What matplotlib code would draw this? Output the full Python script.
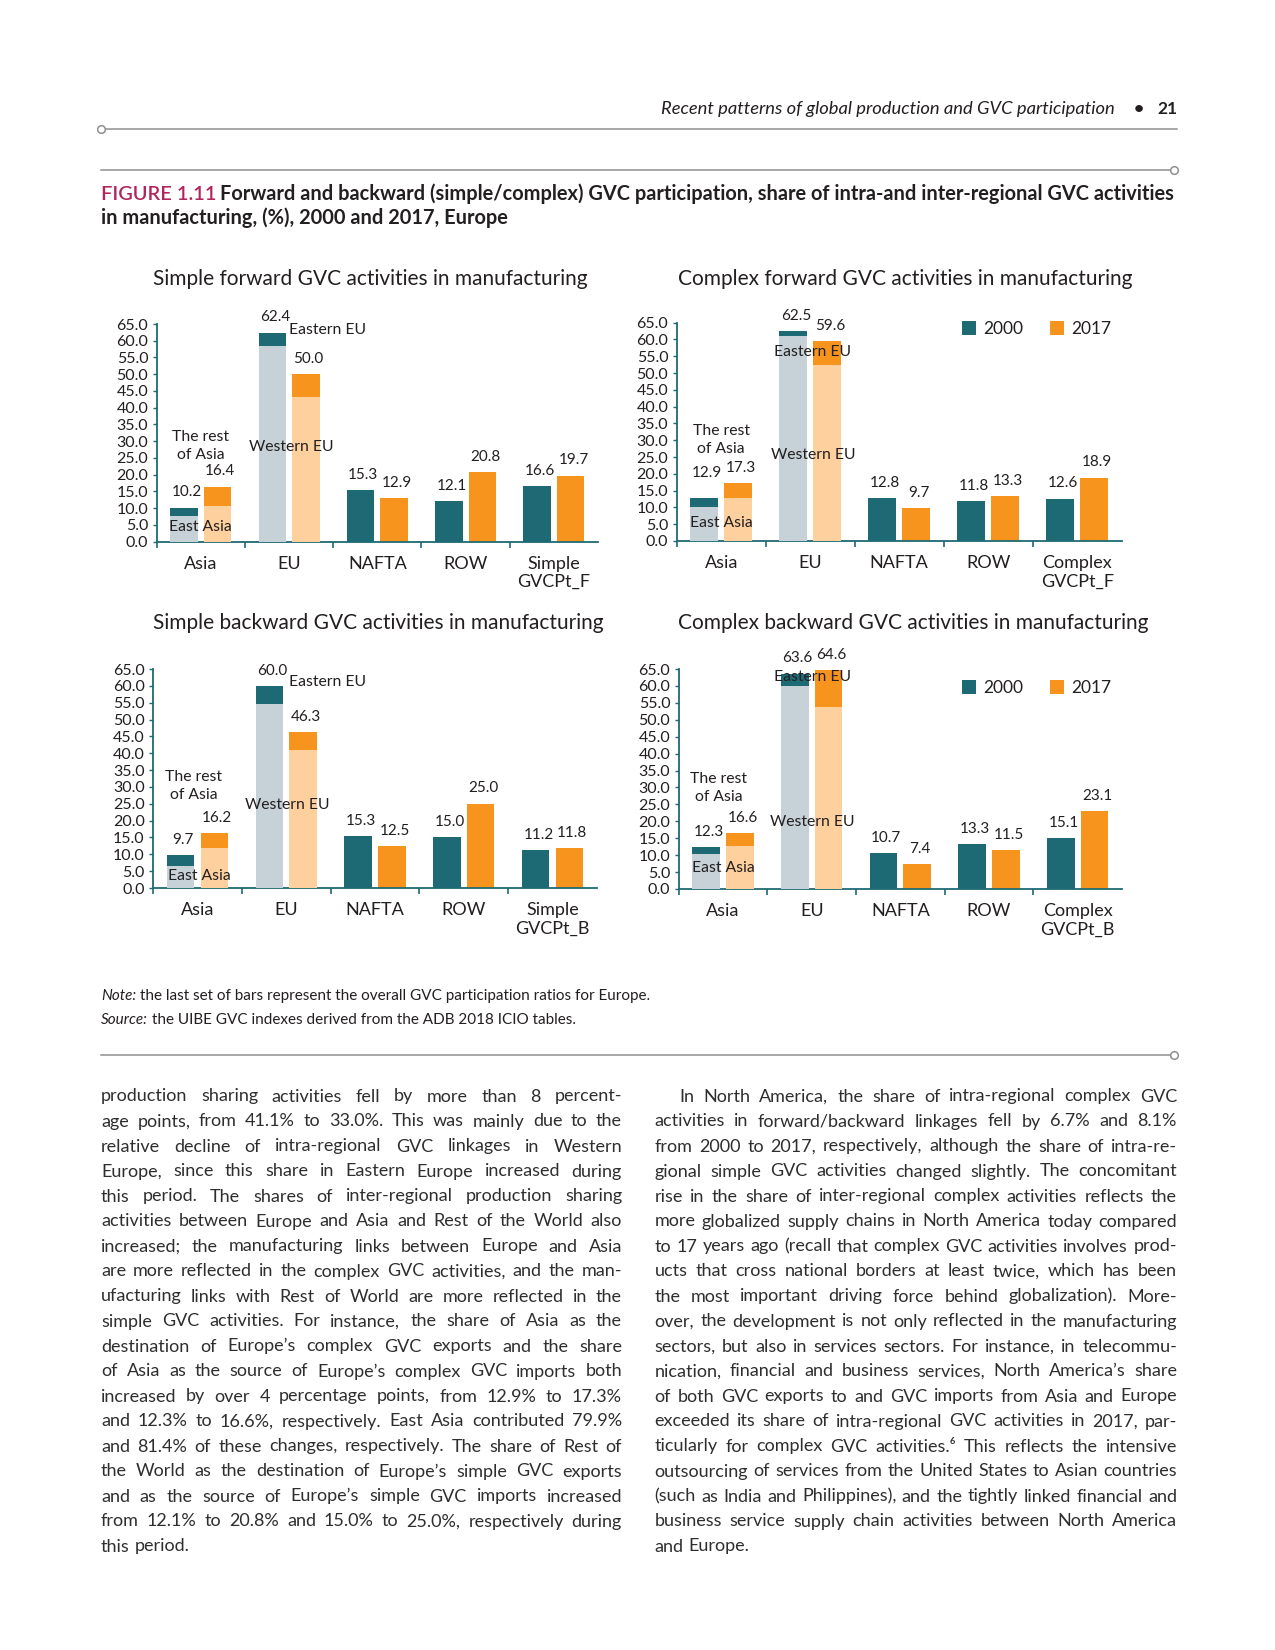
import matplotlib
matplotlib.use('Agg')
import matplotlib.pyplot as plt
from matplotlib.lines import Line2D
import numpy as np

plt.rcParams['font.family'] = ['Lato', 'DejaVu Sans']

# ---------------- data ----------------
years = ['2000', '2017']
cats_sf = ['Asia', 'EU', 'NAFTA', 'ROW', 'Simple\nGVCPt_F']
cats_cf = ['Asia', 'EU', 'NAFTA', 'ROW', 'Complex\nGVCPt_F']
cats_sb = ['Asia', 'EU', 'NAFTA', 'ROW', 'Simple\nGVCPt_B']
cats_cb = ['Asia', 'EU', 'NAFTA', 'ROW', 'Complex\nGVCPt_B']

# totals per category
sf_2000 = [10.2, 62.4, 15.3, 12.1, 16.6]
sf_2017 = [16.4, 50.0, 12.9, 20.8, 19.7]
cf_2000 = [12.9, 62.5, 12.8, 11.8, 12.6]
cf_2017 = [17.3, 59.6, 9.7, 13.3, 18.9]
sb_2000 = [9.7, 60.0, 15.3, 15.0, 11.2]
sb_2017 = [16.2, 46.3, 12.5, 25.0, 11.8]
cb_2000 = [12.3, 63.6, 10.7, 13.3, 15.1]
cb_2017 = [16.6, 64.6, 7.4, 11.5, 23.1]

# lower segments (East Asia in Asia, Western EU in EU)
sf_low_2000 = [7.8, 58.4]
sf_low_2017 = [10.6, 43.2]
cf_low_2000 = [10.1, 61.1]
cf_low_2017 = [12.8, 52.4]
sb_low_2000 = [6.4, 54.7]
sb_low_2017 = [11.8, 41.0]
cb_low_2000 = [10.4, 59.9]
cb_low_2017 = [12.6, 53.7]

seg_names = ['The rest\nof Asia', 'East Asia', 'Western EU', 'Eastern EU']

titles = ['Simple forward GVC activities in manufacturing',
          'Complex forward GVC activities in manufacturing',
          'Simple backward GVC activities in manufacturing',
          'Complex backward GVC activities in manufacturing']

# ---------------- style ----------------
W, H = 1275, 1650
TEAL = '#1e6a74'
ORANGE = '#f7941d'
LIGHT_TEAL = '#c6d2d7'
LIGHT_ORANGE = '#fdd09e'
TXT = '#231f20'
BODY = '#2e2e2e'
GRAY = '#8f8f8f'

fig = plt.figure(figsize=(W / 100, H / 100), dpi=100)
fig.patch.set_facecolor('white')
renderer = fig.canvas.get_renderer()


def fx(x):
    return x / W


def fy(y):
    return 1 - y / H


def text_width(s, **kw):
    t = fig.text(0, 0, s, **kw)
    w = t.get_window_extent(renderer=renderer).width
    t.remove()
    return w


def panel(rect, title, title_x, title_y, cats, v0, v1, low0, low1, seg_pos,
          legend_pos=None, nudges=None):
    left, top, right, bottom = rect
    ax = fig.add_axes([left / W, 1 - bottom / H, (right - left) / W, (bottom - top) / H])
    x = np.arange(len(cats))
    off, bw = 0.19, 0.31
    b0 = ax.bar(x - off, v0, bw, color=TEAL, zorder=2)
    b1 = ax.bar(x + off, v1, bw, color=ORANGE, zorder=2)
    ax.bar(x[:2] - off, low0, bw, color=LIGHT_TEAL, zorder=3)
    ax.bar(x[:2] + off, low1, bw, color=LIGHT_ORANGE, zorder=3)
    nudges = nudges or {}
    for series, vals, sgn in ((0, v0, -1), (1, v1, 1)):
        for i, v in enumerate(vals):
            dy = nudges.get((series, i), 0)
            ax.annotate(f'{v:.1f}', (x[i] + sgn * off, v), xytext=(2, 11 + dy),
                        textcoords='offset points', ha='center', va='center',
                        fontsize=11, color=TXT, zorder=6)
    for name, (px, py, ha) in zip(seg_names, seg_pos):
        ax.text(px, py, name, ha=ha, va='center', fontsize=11.3, color=TXT,
                zorder=6, linespacing=1.35)
    ax.set_xlim(-0.5, len(cats) - 0.5)
    ax.set_ylim(0, 65)
    ax.set_yticks(np.arange(0, 65.1, 5))
    ax.yaxis.set_major_formatter('{x:.1f}')
    ax.set_xticks(x, cats)
    ax.set_xticks(np.arange(-0.5, len(cats) - 1, 1.0), minor=True)
    ax.tick_params(axis='x', which='major', length=0, pad=10, labelsize=13,
                   labelcolor=TXT)
    ax.tick_params(axis='x', which='minor', length=4, width=1.2, color=TEAL,
                   direction='out')
    ax.tick_params(axis='y', length=3, width=1, color=TEAL, pad=3,
                   labelsize=11.5, labelcolor=TXT)
    for s in ('top', 'right'):
        ax.spines[s].set_visible(False)
    for s in ('left', 'bottom'):
        ax.spines[s].set_color(TEAL)
        ax.spines[s].set_linewidth(1.3)
    ax.set_facecolor('none')
    fig.text(fx(title_x), fy(title_y), title, ha='left', va='center',
             fontsize=15.0, color=TXT)
    if legend_pos is not None:
        ax.legend([b0, b1], years, loc='center left',
                  bbox_to_anchor=(fx(legend_pos[0]), fy(legend_pos[1])),
                  bbox_transform=fig.transFigure, ncol=2, frameon=False,
                  fontsize=12.5, handlelength=0.8, handleheight=0.8,
                  handletextpad=0.45, columnspacing=1.5, borderpad=0,
                  borderaxespad=0, labelcolor=TXT)
    return ax


panel((156.7, 324, 598, 541.7), titles[0], 153, 279, cats_sf, sf_2000, sf_2017,
      sf_low_2000, sf_low_2017,
      [(0.0, 28.7, 'center'), (0.0, 4.4, 'center'), (1.02, 28.3, 'center'), (1.0, 63.2, 'left')])
panel((676.7, 322.7, 1121.7, 541), titles[1], 678, 279, cats_cf, cf_2000, cf_2017,
      cf_low_2000, cf_low_2017,
      [(0.0, 30.0, 'center'), (0.0, 5.3, 'center'), (1.03, 25.5, 'center'), (1.03, 56.3, 'center')],
      legend_pos=(962, 329), nudges={(0, 0): 7})
panel((153, 669, 597, 888), titles[2], 153, 623, cats_sb, sb_2000, sb_2017,
      sb_low_2000, sb_low_2017,
      [(-0.04, 30.3, 'center'), (0.02, 3.6, 'center'), (1.01, 24.6, 'center'), (1.03, 61.1, 'left')])
panel((678.7, 669, 1122, 889), titles[3], 678, 623, cats_cb, cb_2000, cb_2017,
      cb_low_2000, cb_low_2017,
      [(-0.05, 29.8, 'center'), (0.0, 6.2, 'center'), (1.01, 19.8, 'center'), (1.01, 62.6, 'center')],
      legend_pos=(962, 688))

# ---------------- page decorations ----------------
def hline(x0, x1, y, circle_x):
    fig.add_artist(Line2D([fx(x0), fx(x1)], [fy(y), fy(y)], color=GRAY, lw=1.1))
    fig.add_artist(Line2D([fx(circle_x)], [fy(y)], marker='o', ms=5.5, mfc='white',
                          mec=GRAY, mew=1.1, lw=0))


hline(104, 1177, 128.6, 101)
hline(101, 1170, 169.7, 1174)
hline(101, 1170, 1055, 1174)

fig.text(fx(1177), fy(114), '21', ha='right', va='baseline', fontsize=12.5,
         weight='bold', color=TXT)
fig.text(fx(1139), fy(114), '•', ha='center', va='baseline', fontsize=12.5,
         weight='bold', color=TXT)
fig.text(fx(1115), fy(114), 'Recent patterns of global production and GVC participation',
         ha='right', va='baseline', fontsize=13.2, style='italic', color=TXT)

# figure caption, fitted to width
cap1a = 'FIGURE 1.11'
cap1b = 'Forward and backward (simple/complex) GVC participation, share of intra-and inter-regional GVC activities'
cap2 = 'in manufacturing, (%), 2000 and 2017, Europe'
base = 13
wa = text_width(cap1a, fontsize=base, weight='semibold')
wb = text_width(cap1b, fontsize=base, weight='bold')
sp = text_width('a a', fontsize=base, weight='bold') - text_width('aa', fontsize=base, weight='bold')
cfs = base * (1170 - 101) / (wa + wb + sp)
scale = cfs / base
fig.text(fx(101), fy(199.5), cap1a, ha='left', va='baseline', fontsize=cfs,
         weight='semibold', color='#b3245c')
fig.text(fx(101 + (wa + sp) * scale), fy(199.5), cap1b, ha='left', va='baseline',
         fontsize=cfs, weight='bold', color=TXT)
fig.text(fx(101), fy(223.5), cap2, ha='left', va='baseline', fontsize=cfs,
         weight='bold', color=TXT)

# note and source
nfs = 11.0
for yb, a, b in ((1000.5, 'Note:', ' the last set of bars represent the overall GVC participation ratios for Europe.'),
                 (1024.5, 'Source:', ' the UIBE GVC indexes derived from the ADB 2018 ICIO tables.')):
    wa_ = text_width(a, fontsize=nfs, style='italic')
    sp_ = text_width('a a', fontsize=nfs) - text_width('aa', fontsize=nfs)
    fig.text(fx(101), fy(yb), a, ha='left', va='baseline', fontsize=nfs,
             style='italic', color=TXT)
    fig.text(fx(101 + wa_ + sp_), fy(yb), b.strip(), ha='left', va='baseline',
             fontsize=nfs, color=TXT)

# ---------------- body text ----------------
left_lines = [
    'production sharing activities fell by more than 8 percent-',
    'age points, from 41.1% to 33.0%. This was mainly due to the',
    'relative decline of intra-regional GVC linkages in Western',
    'Europe, since this share in Eastern Europe increased during',
    'this period. The shares of inter-regional production sharing',
    'activities between Europe and Asia and Rest of the World also',
    'increased; the manufacturing links between Europe and Asia',
    'are more reflected in the complex GVC activities, and the man-',
    'ufacturing links with Rest of World are more reflected in the',
    'simple GVC activities. For instance, the share of Asia as the',
    'destination of Europe’s complex GVC exports and the share',
    'of Asia as the source of Europe’s complex GVC imports both',
    'increased by over 4 percentage points, from 12.9% to 17.3%',
    'and 12.3% to 16.6%, respectively. East Asia contributed 79.9%',
    'and 81.4% of these changes, respectively. The share of Rest of',
    'the World as the destination of Europe’s simple GVC exports',
    'and as the source of Europe’s simple GVC imports increased',
    'from 12.1% to 20.8% and 15.0% to 25.0%, respectively during',
    'this period.',
]
right_lines = [
    'In North America, the share of intra-regional complex GVC',
    'activities in forward/backward linkages fell by 6.7% and 8.1%',
    'from 2000 to 2017, respectively, although the share of intra-re-',
    'gional simple GVC activities changed slightly. The concomitant',
    'rise in the share of inter-regional complex activities reflects the',
    'more globalized supply chains in North America today compared',
    'to 17 years ago (recall that complex GVC activities involves prod-',
    'ucts that cross national borders at least twice, which has been',
    'the most important driving force behind globalization). More-',
    'over, the development is not only reflected in the manufacturing',
    'sectors, but also in services sectors. For instance, in telecommu-',
    'nication, financial and business services, North America’s share',
    'of both GVC exports to and GVC imports from Asia and Europe',
    'exceeded its share of intra-regional GVC activities in 2017, par-',
    'ticularly for complex GVC activities.⁶ This reflects the intensive',
    'outsourcing of services from the United States to Asian countries',
    '(such as India and Philippines), and the tightly linked financial and',
    'business service supply chain activities between North America',
    'and Europe.',
]

BODY_BASE = 13.0
cols = [(left_lines, 101, 622, 0), (right_lines, 654.5, 1177, 25)]
space_b = text_width('a a', fontsize=BODY_BASE) - text_width('aa', fontsize=BODY_BASE)
ratio = 1.0
for lines, x0, x1, ind in cols:
    for i, line in enumerate(lines):
        words = line.split()
        tot = sum(text_width(w, fontsize=BODY_BASE) for w in words) + 0.35 * space_b * (len(words) - 1)
        avail = x1 - x0 - (ind if i == 0 else 0)
        ratio = min(ratio, avail / tot)
bfs = BODY_BASE * ratio
space = space_b * ratio


def draw_column(lines, x0, x1, indent, y0, lh):
    for i, line in enumerate(lines):
        yb = y0 + i * lh
        words = line.split()
        widths = [text_width(w, fontsize=bfs) for w in words]
        xs = x0 + (indent if i == 0 else 0)
        if i == len(lines) - 1 or len(words) == 1:
            gap = space
        else:
            gap = (x1 - xs - sum(widths)) / (len(words) - 1)
        xc = xs
        for w, wd in zip(words, widths):
            fig.text(fx(xc), fy(yb), w, ha='left', va='baseline', fontsize=bfs,
                     color=BODY)
            xc += wd + gap


for lines, x0, x1, ind in cols:
    draw_column(lines, x0, x1, ind, 1101.5, 25.0)

fig.savefig('out.png', dpi=100, facecolor='white')
